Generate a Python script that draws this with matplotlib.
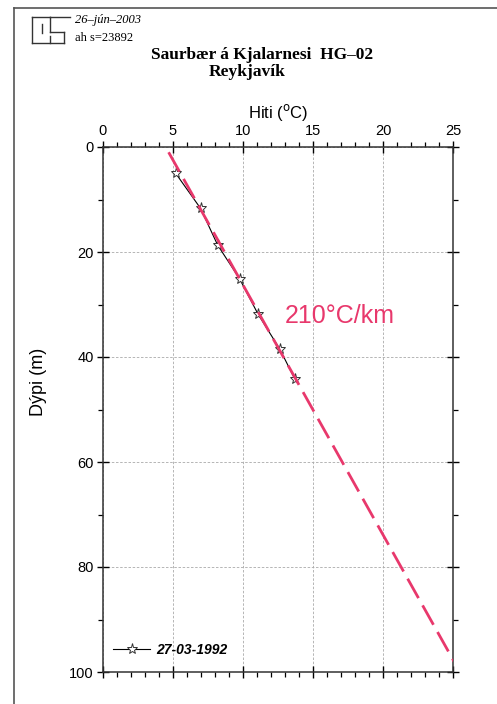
import matplotlib
matplotlib.use("Agg")
import matplotlib.pyplot as plt
from matplotlib.lines import Line2D
from matplotlib.ticker import MultipleLocator

# ---- data ----
depth = [5.0, 11.7, 18.7, 25.1, 31.9, 38.5, 44.2]
temp = [5.2, 6.98, 8.2, 9.76, 11.09, 12.63, 13.7]
fit_depth = [1.0, 98.7]
fit_temp = [4.7, 25.2]
series_label = "27-03-1992"
gradient_label = "210°C/km"
x_ticks = [0, 5, 10, 15, 20, 25]
y_ticks = [0, 20, 40, 60, 80, 100]

W, H = 497, 704
fig = plt.figure(figsize=(W / 100, H / 100), dpi=100)
fig.patch.set_facecolor("white")

def fx(px):
    return px / W

def fy(py):
    return 1 - py / H

# page frame (scan border)
fig.add_artist(Line2D([fx(14), fx(14)], [fy(8), 0], color="#555555", lw=1.2))
fig.add_artist(Line2D([fx(14), 1], [fy(8), fy(8)], color="#555555", lw=1.2))

# logo
logo = [
    ([32, 50], [17, 17]), ([32, 32], [17, 43]), ([32, 64], [43, 43]),
    ([50, 50], [17, 32]), ([50, 70], [17, 17]), ([50, 64], [32, 32]),
    ([64, 64], [32, 43]), ([42, 42], [24, 33]), ([50, 50], [36, 43]),
]
for xs, ys in logo:
    fig.add_artist(Line2D([fx(v) for v in xs], [fy(v) for v in ys], color="#333333", lw=1.0))

fig.text(fx(75), fy(20), "26\u2013jún\u20132003", family="Liberation Serif", style="italic",
         fontsize=9, va="center", ha="left")
fig.text(fx(75), fy(38), "ah s=23892", family="Liberation Serif",
         fontsize=9, va="center", ha="left")

fig.text(fx(262), fy(55), "Saurbær á Kjalarnesi  HG\u201302", family="Liberation Serif",
         fontweight="bold", fontsize=12.5, ha="center", va="center")
fig.text(fx(247), fy(72), "Reykjavík", family="Liberation Serif",
         fontweight="bold", fontsize=12.5, ha="center", va="center")

left, right, top, bottom = 102.7, 453.3, 147, 672
ax = fig.add_axes([fx(left), fy(bottom), (right - left) / W, (bottom - top) / H])

pink = "#e8386c"
ax.grid(True, which="major", color="#aaaaaa", linestyle=(0, (3, 2)), lw=0.6)
ax.set_axisbelow(True)

ax.plot(temp, depth, color="black", lw=0.8, marker="*", markersize=8,
        markerfacecolor="white", markeredgecolor="#333333", markeredgewidth=0.7,
        label=series_label, zorder=3)
ax.plot(fit_temp, fit_depth, color=pink, lw=2.0, linestyle=(0, (8, 3)), zorder=4)

ax.text(13.0, 33.5, gradient_label, color=pink, fontsize=18, family="Liberation Sans",
        ha="left", va="baseline")

ax.set_xlim(0, 25)
ax.set_ylim(100, 0)
ax.set_xticks(x_ticks)
ax.set_yticks(y_ticks)
ax.xaxis.set_minor_locator(MultipleLocator(1))
ax.yaxis.set_minor_locator(MultipleLocator(10))
ax.xaxis.set_ticks_position("both")
ax.yaxis.set_ticks_position("both")
ax.xaxis.set_label_position("top")
ax.tick_params(axis="x", which="both", labeltop=True, labelbottom=False)
ax.tick_params(which="major", direction="inout", length=9, width=1.0, labelsize=10.5, pad=2)
ax.tick_params(which="minor", direction="out", length=3.5, width=0.9)
for lab in ax.get_xticklabels() + ax.get_yticklabels():
    lab.set_family("Liberation Sans")
for s in ax.spines.values():
    s.set_color("#333333")
    s.set_linewidth(1.1)

ax.set_xlabel("Hiti ($^{\\rm o}$C)", family="Liberation Sans", fontsize=12, labelpad=4)
ax.set_ylabel("Dýpi (m)", family="Liberation Sans", fontsize=13)
ax.yaxis.set_label_coords((47 - left) / (right - left), (bottom - 382) / (bottom - top))

leg = ax.legend(loc="lower left", bbox_to_anchor=(-0.005, 0.005), frameon=False,
                handlelength=2.6, handletextpad=0.5,
                prop={"family": "Liberation Sans", "weight": "bold", "style": "italic", "size": 10})

fig.savefig("out.png", dpi=100, facecolor="white")
